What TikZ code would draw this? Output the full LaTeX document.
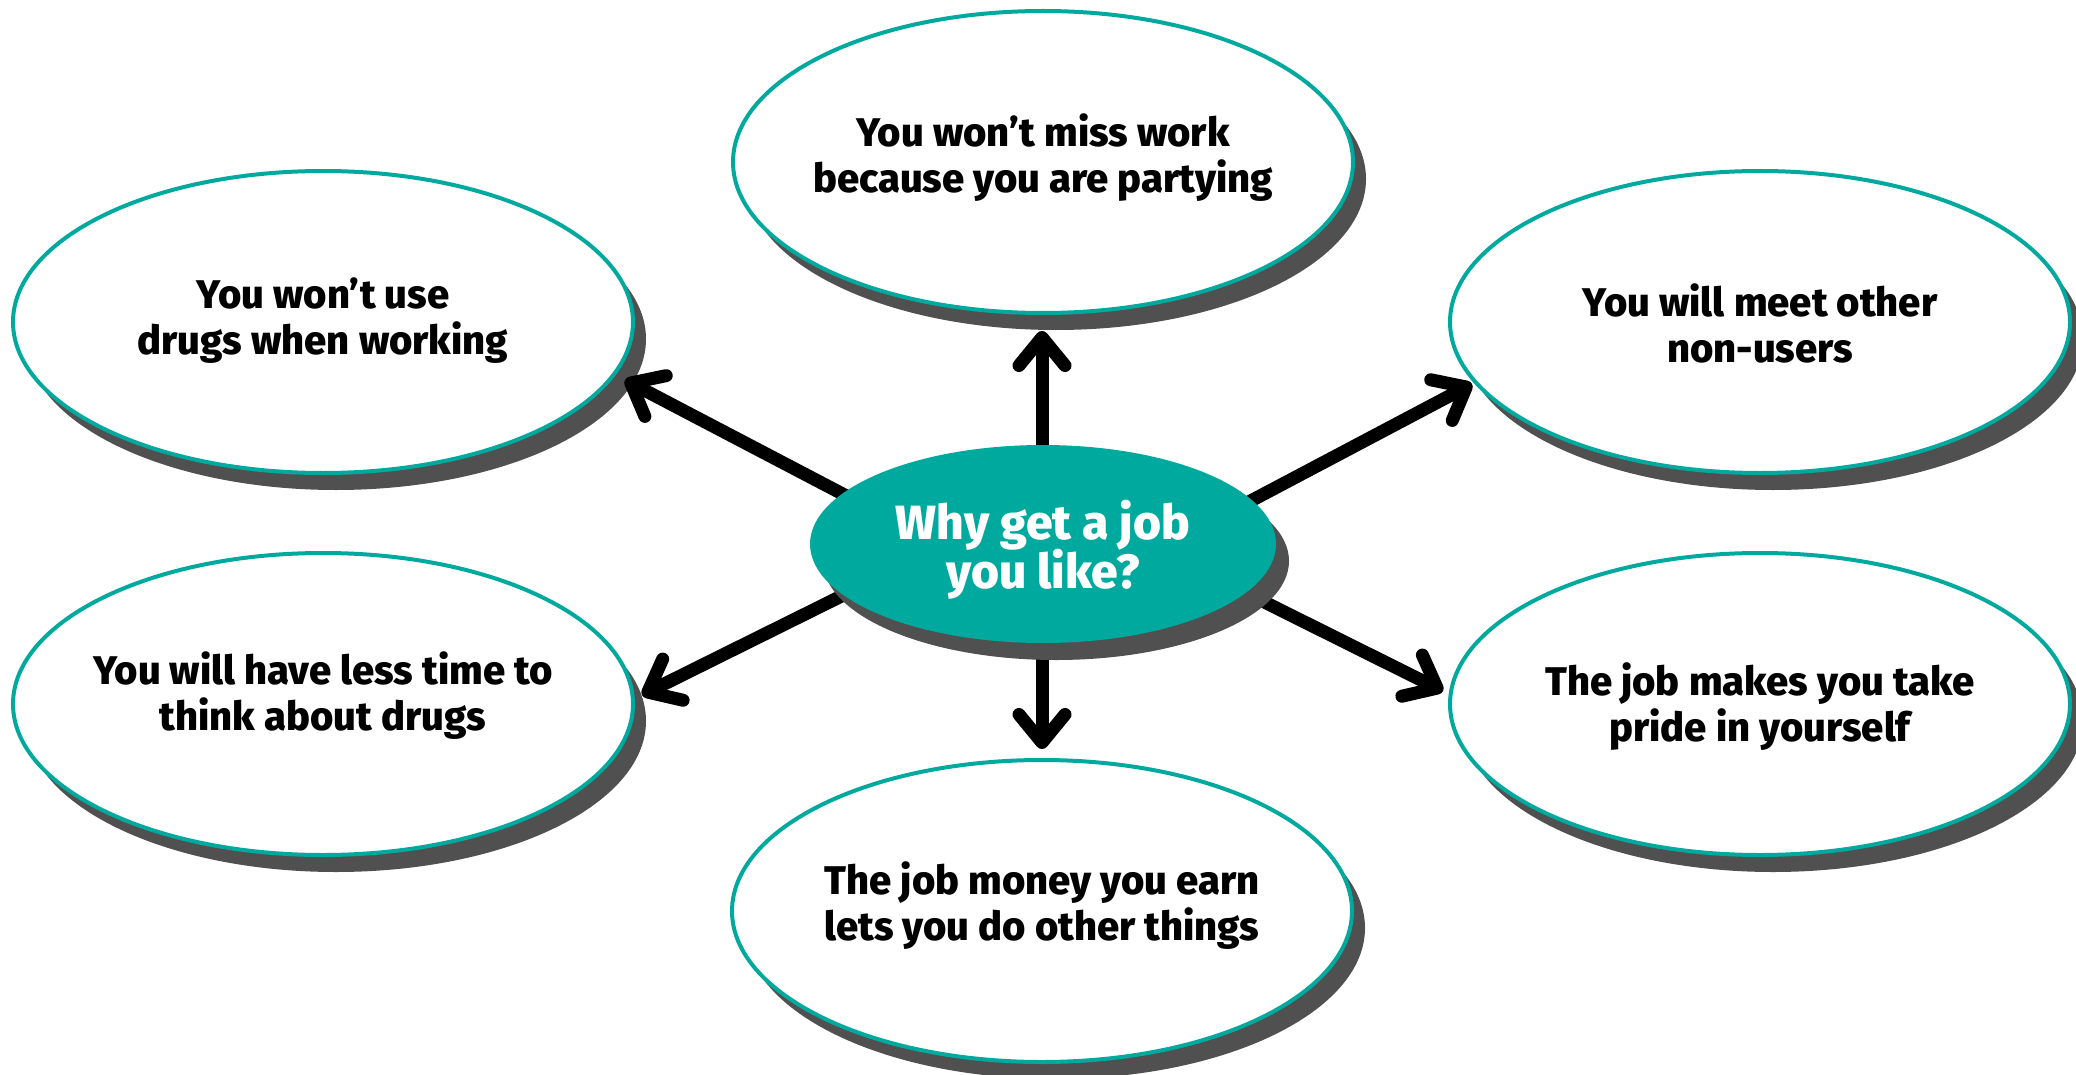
\documentclass[tikz,border=0pt]{standalone}
\usepackage{fontspec}
\setmainfont{Fira Sans}[BoldFont={Fira Sans ExtraBold}]
\usetikzlibrary{arrows.meta,shadows,shapes.geometric}
\definecolor{tealc}{HTML}{00A99D}
\definecolor{shad}{HTML}{505050}
\newcommand\twolines[3][14pt]{\raisebox{#1}[0pt][0pt]{\makebox[0pt]{\begin{tabular}[t]{@{}c@{}}\smash{#2}\\\smash{#3}\end{tabular}}}}
\begin{document}
\begin{tikzpicture}[x=1pt,y=-1pt,
  outer/.style={ellipse, draw=tealc, line width=4pt, fill=white,
    minimum width=620pt, minimum height=302pt, inner sep=0pt,
    font=\fontsize{40}{46}\selectfont\bfseries,
    drop shadow={shadow xshift=13pt, shadow yshift=-17pt, fill=shad, opacity=1}},
  hub/.style={ellipse, fill=tealc, text=white,
    minimum width=466pt, minimum height=198pt, inner sep=0pt,
    font=\fontsize{48}{49}\selectfont\bfseries,
    drop shadow={shadow xshift=13pt, shadow yshift=-17pt, fill=shad, opacity=1}},
  arr/.style={line width=13pt, line cap=round,
    -{Straight Barb[length=28pt,width=46pt,line cap=round,line join=round]}}]
\useasboundingbox (0,0) rectangle (2076,1075);

% outer ellipses
\node[outer] (top) at (1043,162) {\twolines[15pt]{You won’t miss work}{because you are partying}};
\node[outer] (ul) at (323,322) {\twolines[14pt]{You won’t use}{drugs when working}};
\node[outer] (ur) at (1760,322) {\twolines[6pt]{You will meet other}{non-users}};
\node[outer] (ll) at (323,704) {\twolines[20pt]{You will have less time to}{think about drugs}};
\node[outer] (lr) at (1760,704) {\twolines[8.5pt]{The job makes you take}{pride in yourself}};
\node[outer] (bot) at (1042,911) {\twolines[16.5pt]{The job money you earn}{lets you do other things}};

% arrow end points
\coordinate (s1) at (1042,500); \coordinate (t1) at (1042,331);
\coordinate (s2) at (1042,590); \coordinate (t2) at (1042,749);
\coordinate (s3) at (900,524);  \coordinate (t3) at (625,380);
\coordinate (s4) at (1190,533); \coordinate (t4) at (1472,384);
\coordinate (s5) at (900,567);  \coordinate (t5) at (642,695);
\coordinate (s6) at (1190,565); \coordinate (t6) at (1443,691);

\draw[arr] (s1) -- (t1);
\draw[arr] (s2) -- (t2);
\draw[arr] (s3) -- (t3);
\draw[arr] (s4) -- (t4);
\draw[arr] (s5) -- (t5);
\draw[arr] (s6) -- (t6);

% hub
\node[hub] (c) at (1043,544) {\twolines[4.7pt]{Why get a job}{you like?}};
\end{tikzpicture}
\end{document}
